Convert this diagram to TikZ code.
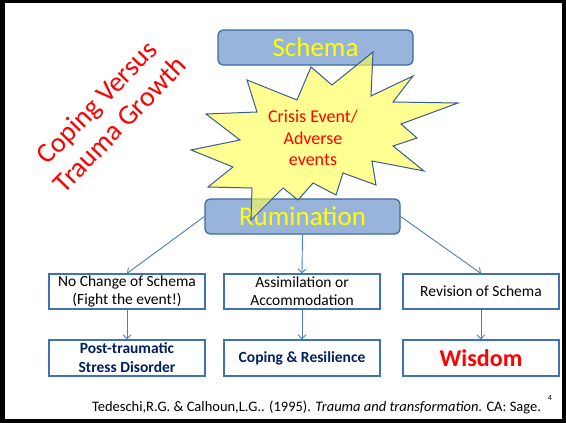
\documentclass[tikz,border=0pt]{standalone}
\usepackage{fontspec}
\setmainfont{Carlito}
\usetikzlibrary{arrows.meta}

\definecolor{boxfill}{RGB}{152,180,218}
\definecolor{boxedge}{RGB}{62,104,160}
\definecolor{rowedge}{RGB}{66,112,180}
\definecolor{linkblue}{RGB}{74,126,187}
\definecolor{burstfill}{RGB}{255,255,80}
\definecolor{burstedge}{RGB}{56,93,138}
\definecolor{navytext}{RGB}{0,32,96}
\definecolor{hotred}{RGB}{255,0,0}
\definecolor{brightyellow}{RGB}{255,255,0}

\tikzset{
  stagebox/.style={draw=boxedge, line width=1.2pt, fill=boxfill, rounded corners=5pt,
    minimum width=195pt, minimum height=35pt, inner sep=0pt,
    text=brightyellow, font=\fontsize{27}{30}\selectfont},
  pathbox/.style={draw=rowedge, line width=1.1pt, fill=white,
    minimum width=156pt, minimum height=35pt, inner sep=0pt, align=center,
    font=\fontsize{15.5}{18}\selectfont},
  outcomebox/.style={pathbox, minimum height=36pt, text=navytext,
    font=\fontsize{15.5}{19}\selectfont\bfseries},
  link/.style={draw=linkblue, line width=0.9pt, -{Straight Barb[length=4pt,width=8pt]}},
}

\begin{document}
\begin{tikzpicture}[x=1pt,y=-1pt]
  % slide frame
  \fill[black] (0,0) rectangle (566,423);
  \fill[white] (5,3) rectangle (562,419);
  \useasboundingbox (0,0) rectangle (566,423);

  % rotated heading
  \node[text=hotred, rotate=46, align=center, font=\fontsize{28}{32}\selectfont]
    (heading) at (108,113) {Coping Versus\\Trauma Growth};

  % schema and rumination stages
  \node[stagebox] (schema) at (315.5,47.5) {Schema};
  \node[stagebox] (rumination) at (302.5,216.5) {Rumination};

  % crisis starburst, translucent over the stage boxes
  \path[draw=burstedge, line width=1pt, fill=burstfill, fill opacity=0.62, line join=miter]
    (373,52) -- (371,96) -- (413,76) -- (393,102) -- (458,103) -- (401,124)
    -- (417,138) -- (393,146) -- (424,171) -- (372,161) -- (376,185)
    -- (343,173) -- (336,195) -- (313,183) -- (298,200) -- (283,188)
    -- (251,220) -- (252,188) -- (208,187) -- (233,167) -- (191,150)
    -- (240,140) -- (206,114) -- (257,112) -- (247,80) -- (297,100)
    -- (311,67) -- (332,85) -- cycle;
  \node[text=hotred, align=center, font=\fontsize{18}{21.5}\selectfont]
    (crisis) at (313,138) {Crisis Event/\\Adverse\\events};

  % three ways of processing
  \node[pathbox] (nochange) at (127,291.5) {No Change of Schema\\(Fight the event!)};
  \node[pathbox] (assim) at (302,291.5) {Assimilation or\\Accommodation};
  \node[pathbox] (revision) at (481,291.5) {Revision of Schema};

  % outcomes
  \node[outcomebox] (ptsd) at (127,358) {Post-traumatic\\Stress Disorder};
  \node[outcomebox] (coping) at (302,358) {Coping \& Resilience};
  \node[outcomebox, text=hotred, font=\fontsize{24}{26}\selectfont\bfseries]
    (wisdom) at (481,358) {Wisdom};

  % connectors
  \draw[link] (rumination.west) -- (nochange.north);
  \draw[link] (rumination.south) -- (assim.north);
  \draw[link] (rumination.east) -- (revision.north);
  \draw[link] (nochange.south) -- (ptsd.north);
  \draw[link] (assim.south) -- (coping.north);
  \draw[link] (revision.south) -- (wisdom.north);

  % reference line and page number
  \node[font=\fontsize{14.5}{16}\selectfont] (cite) at (316.5,407)
    {Tedeschi,R.G. \& Calhoun,L.G.. (1995). \textit{Trauma and transformation}. CA: Sage.};
  \node[font=\fontsize{8}{9}\selectfont] (pagenum) at (550,398) {4};
\end{tikzpicture}
\end{document}
